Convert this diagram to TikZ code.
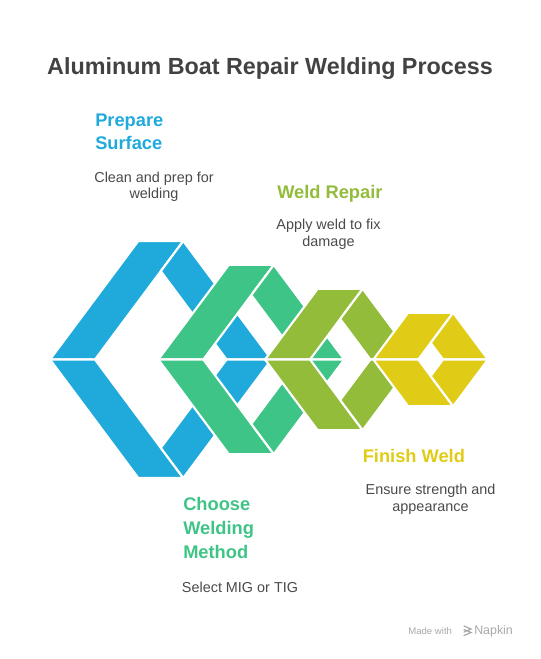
\documentclass[tikz,border=0pt]{standalone}
\usepackage{fontspec}
\setmainfont{Liberation Sans}
\usetikzlibrary{calc,positioning}
\definecolor{weldBlue}{HTML}{1FAADB}
\definecolor{weldGreen}{HTML}{3EC486}
\definecolor{weldOlive}{HTML}{92BC3A}
\definecolor{weldYellow}{HTML}{E0CC16}
\definecolor{ink}{HTML}{424242}
\definecolor{note}{HTML}{4A4A4A}
\definecolor{faint}{HTML}{A8A8A8}
\newcommand{\FigTitle}{\fontsize{17.5}{21}\selectfont\bfseries}
\newcommand{\FigHead}{\fontsize{13.7}{17.7}\selectfont\bfseries}
\newcommand{\FigBody}{\fontsize{10.8}{12.6}\selectfont}
\newcommand{\FigTiny}{\fontsize{7.2}{8.6}\selectfont}
\tikzset{
  piece/.style={draw=white,line width=1.6pt,line join=round},
  head/.style={font=\FigHead,align=left,anchor=base west,inner sep=0pt},
  body/.style={font=\FigBody,note,align=center,anchor=base,inner sep=0pt},
}

\begin{document}
\begin{tikzpicture}[x=0.75pt,y=-0.75pt]
  \useasboundingbox (0,0) rectangle (540,659);
  \def\slope{0.745}\def\band{45}\def\midy{359.5}

  \node[font=\FigTitle,ink,anchor=base,inner sep=0pt] (title) at (270,75) {Aluminum Boat Repair Welding Process};

  % chevron hexagons, back to front
  \foreach \lx/\hh/\col in {50/118.5/weldBlue, 158.3/94.6/weldGreen, 265/70.7/weldOlive, 373.3/46.8/weldYellow} {
    \pgfmathsetmacro{\kh}{\slope*\hh}
    \pgfmathsetmacro{\dy}{\hh-\band/(2*\slope)}
    % left band
    \path[piece,fill=\col] (\lx,\midy) -- ({\lx+\kh},{\midy-\hh}) -- ({\lx+\kh+\band},{\midy-\hh}) -- ({\lx+\band},\midy) -- cycle;
    \path[piece,fill=\col] (\lx,\midy) -- ({\lx+\kh},{\midy+\hh}) -- ({\lx+\kh+\band},{\midy+\hh}) -- ({\lx+\band},\midy) -- cycle;
    % right band
    \path[piece,fill=\col] ({\lx+\kh+\band},{\midy-\hh}) -- ({\lx+2*\kh+\band},\midy) -- ({\lx+2*\kh},\midy) -- ({\lx+\kh+\band/2},{\midy-\dy}) -- cycle;
    \path[piece,fill=\col] ({\lx+\kh+\band},{\midy+\hh}) -- ({\lx+2*\kh+\band},\midy) -- ({\lx+2*\kh},\midy) -- ({\lx+\kh+\band/2},{\midy+\dy}) -- cycle;
  }

  % Prepare (base = last line)
  \node[head,weldBlue] (prepHead) at (95,150) {Prepare\\Surface};
  \node[body] (prepBody) at (154,199) {Clean and prep for\\welding};

  % Weld
  \node[head,weldOlive] (weldHead) at (277,199) {Weld Repair};
  \node[body] (weldBody) at (328.5,246) {Apply weld to fix\\damage};

  % Choose
  \node[head,weldGreen] (chooseHead) at (183,558) {Choose\\Welding\\Method};
  \node[body] (chooseBody) at (240,592) {Select MIG or TIG};

  % Finish
  \node[head,weldYellow] (finishHead) at (362.5,462.5) {Finish Weld};
  \node[body] (finishBody) at (430.5,511) {Ensure strength and\\appearance};

  % footer
  \node[font=\FigTiny,faint,anchor=base west,inner sep=0pt] (madeWith) at (408,634) {Made with};
  \draw[faint,line width=0.9pt,line cap=round] (464,626) -- (471,629) -- (464,632) (464,629.5) -- (471,632.5) -- (464,635.5);
  \node[font=\fontsize{9.3}{11}\selectfont,faint,anchor=base west,inner sep=0pt] (napkin) at (474,634) {Napkin};
\end{tikzpicture}
\end{document}
